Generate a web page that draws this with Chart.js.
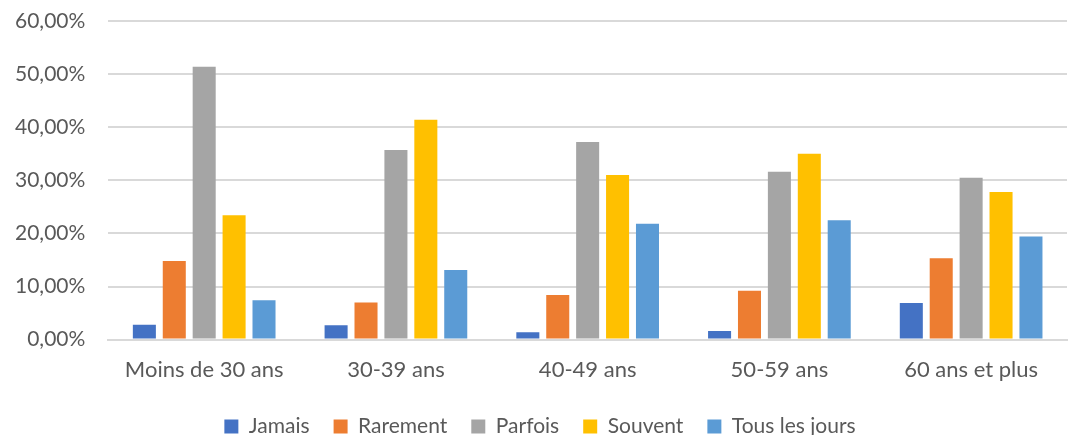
<!DOCTYPE html>
<html>
<head>
<meta charset="utf-8">
<script src="https://cdn.jsdelivr.net/npm/chart.js@4"></script>
<style>
  html, body { margin: 0; padding: 0; background: #fff; }
  #wrap { width: 1068px; height: 435px; }
</style>
</head>
<body>
<div id="wrap"><canvas id="barChartCanvas"></canvas></div>
<script>
// categories and series (percent values)
const categories = ['Moins de 30 ans', '30-39 ans', '40-49 ans', '50-59 ans', '60 ans et plus'];
const jamais = [2.8, 2.7, 1.4, 1.6, 6.9];
const rarement = [14.8, 7.0, 8.4, 9.2, 15.3];
const parfois = [51.4, 35.7, 37.2, 31.6, 30.5];
const souvent = [23.4, 41.4, 31.0, 35.0, 27.8];
const tousLesJours = [7.4, 13.1, 21.8, 22.5, 19.4];
const yTicks = [0, 10, 20, 30, 40, 50, 60];

const textColor = '#595959';
const fontFamily = 'Lato, "Open Sans", sans-serif';

function makeSet(label, data, color) {
    return {
        label: label,
        data: data,
        backgroundColor: color,
        borderWidth: 0,
        categoryPercentage: 0.78,
        barPercentage: 0.77
    };
}

const barChartCanvas = document.getElementById('barChartCanvas');
new Chart(barChartCanvas, {
    type: 'bar',
    data: {
        labels: categories,
        datasets: [
            makeSet('Jamais', jamais, '#4472C4'),
            makeSet('Rarement', rarement, '#ED7D31'),
            makeSet('Parfois', parfois, '#A5A5A5'),
            makeSet('Souvent', souvent, '#FFC000'),
            makeSet('Tous les jours', tousLesJours, '#5B9BD5')
        ]
    },
    options: {
        responsive: true,
        maintainAspectRatio: false,
        animation: false,
        layout: { padding: { top: 21, right: 1, left: 13, bottom: -12 } },
        plugins: {
            tooltip: { enabled: false },
            legend: {
                position: 'bottom',
                labels: {
                    color: textColor,
                    font: { family: fontFamily, size: 21 },
                    boxWidth: 14,
                    boxHeight: 14,
                    padding: 24
                }
            }
        },
        scales: {
            x: {
                grid: { display: false },
                border: { display: true, color: '#d9d9d9', width: 2 },
                ticks: {
                    color: textColor,
                    font: { family: fontFamily, size: 22 },
                    padding: 9
                }
            },
            y: {
                min: yTicks[0],
                max: yTicks[yTicks.length - 1],
                afterBuildTicks: function(axis) {
                    axis.ticks = yTicks.map(v => ({ value: v }));
                },
                // invisible tick marks keep the gap between labels and plot
                grid: { color: '#d9d9d9', lineWidth: 2, drawTicks: true, tickLength: 21, tickColor: 'rgba(0,0,0,0)' },
                border: { display: false },
                ticks: {
                    color: textColor,
                    font: { family: fontFamily, size: 21 },
                    padding: 2,
                    callback: function(value) {
                        return value.toFixed(2).replace('.', ',') + '%';
                    }
                }
            }
        }
    }
});
</script>
</body>
</html>
